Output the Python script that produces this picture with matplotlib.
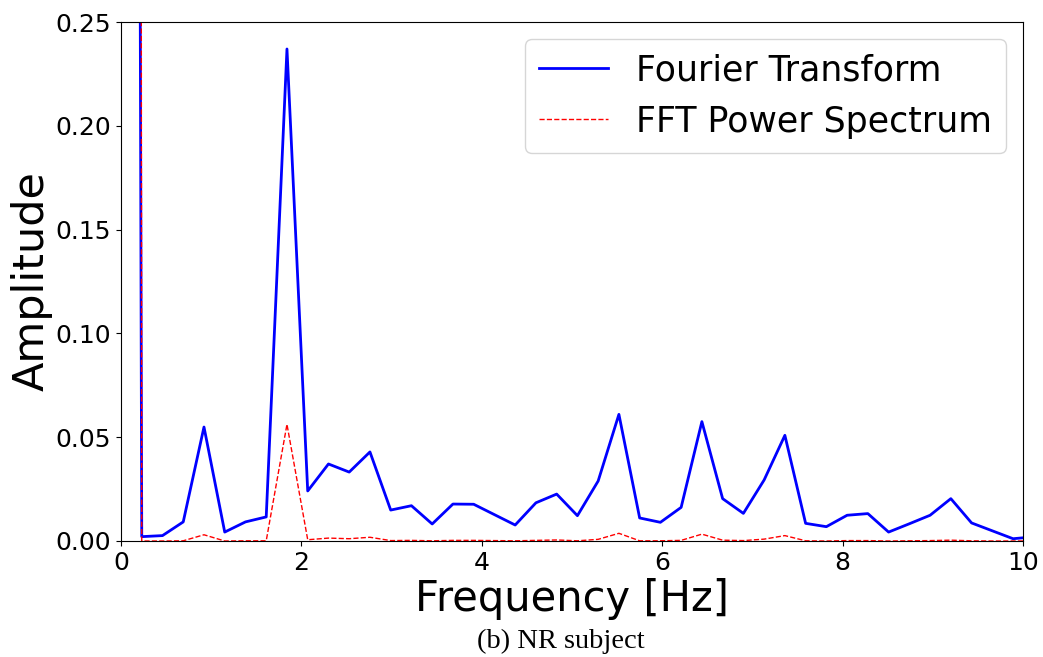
import numpy as np
import matplotlib
matplotlib.use('Agg')
import matplotlib.pyplot as plt

freq = [0.00, 0.23, 0.46, 0.69, 0.92, 1.15, 1.38, 1.61, 1.84, 2.07,
        2.30, 2.53, 2.76, 2.99, 3.22, 3.45, 3.68, 3.91, 4.14, 4.37,
        4.60, 4.83, 5.06, 5.29, 5.52, 5.75, 5.98, 6.21, 6.44, 6.67,
        6.90, 7.13, 7.36, 7.59, 7.82, 8.05, 8.28, 8.51, 8.74, 8.97,
        9.20, 9.43, 9.66, 9.89, 10.12]

# Fourier transform amplitude (first bin is the DC term, far off the top)
amplitude = [3.5, 0.0021, 0.0026, 0.0092, 0.0549, 0.0043, 0.0092, 0.0116, 0.2370, 0.0241,
             0.0371, 0.0332, 0.0429, 0.0149, 0.0170, 0.0082, 0.0178, 0.0177, 0.0127, 0.0077,
             0.0184, 0.0226, 0.0122, 0.0289, 0.0610, 0.0111, 0.0090, 0.0162, 0.0575, 0.0204,
             0.0133, 0.0294, 0.0509, 0.0085, 0.0069, 0.0124, 0.0132, 0.0043, 0.0083, 0.0124,
             0.0204, 0.0087, 0.0049, 0.0011, 0.0020]

# FFT power spectrum
power = [12.0, 0.0000, 0.0000, 0.0001, 0.0030, 0.0000, 0.0001, 0.0001, 0.0562, 0.0006,
         0.0014, 0.0011, 0.0018, 0.0002, 0.0003, 0.0001, 0.0003, 0.0003, 0.0002, 0.0001,
         0.0003, 0.0005, 0.0001, 0.0008, 0.0037, 0.0001, 0.0001, 0.0003, 0.0033, 0.0004,
         0.0002, 0.0009, 0.0026, 0.0001, 0.0000, 0.0002, 0.0002, 0.0000, 0.0001, 0.0002,
         0.0004, 0.0001, 0.0000, 0.0000, 0.0000]

fig = plt.figure(figsize=(10.43, 6.57), dpi=100)
ax = fig.add_axes([121/1043, 1 - 541/657, (1023-121)/1043, (541-22)/657])

ax.plot(freq, amplitude, color='blue', lw=2, label='Fourier Transform')
ax.plot(freq, power, color='red', lw=1, ls='--', label='FFT Power Spectrum')

ax.set_xlim(0, 10)
ax.set_ylim(0, 0.25)
ax.set_xticks([0, 2, 4, 6, 8, 10])
ax.set_yticks([0.00, 0.05, 0.10, 0.15, 0.20, 0.25])
ax.set_yticklabels(['0.00', '0.05', '0.10', '0.15', '0.20', '0.25'])
ax.tick_params(labelsize=18)
ax.set_xlabel('Frequency [Hz]', fontsize=30, labelpad=2)
ax.set_ylabel('Amplitude', fontsize=31, labelpad=2)

ax.legend(loc='upper right', fontsize=25)

fig.text(561/1043, 9/657, '(b) NR subject', ha='center', va='baseline',
         fontsize=20.5, family='Liberation Serif')

fig.savefig('out.png', dpi=100)
